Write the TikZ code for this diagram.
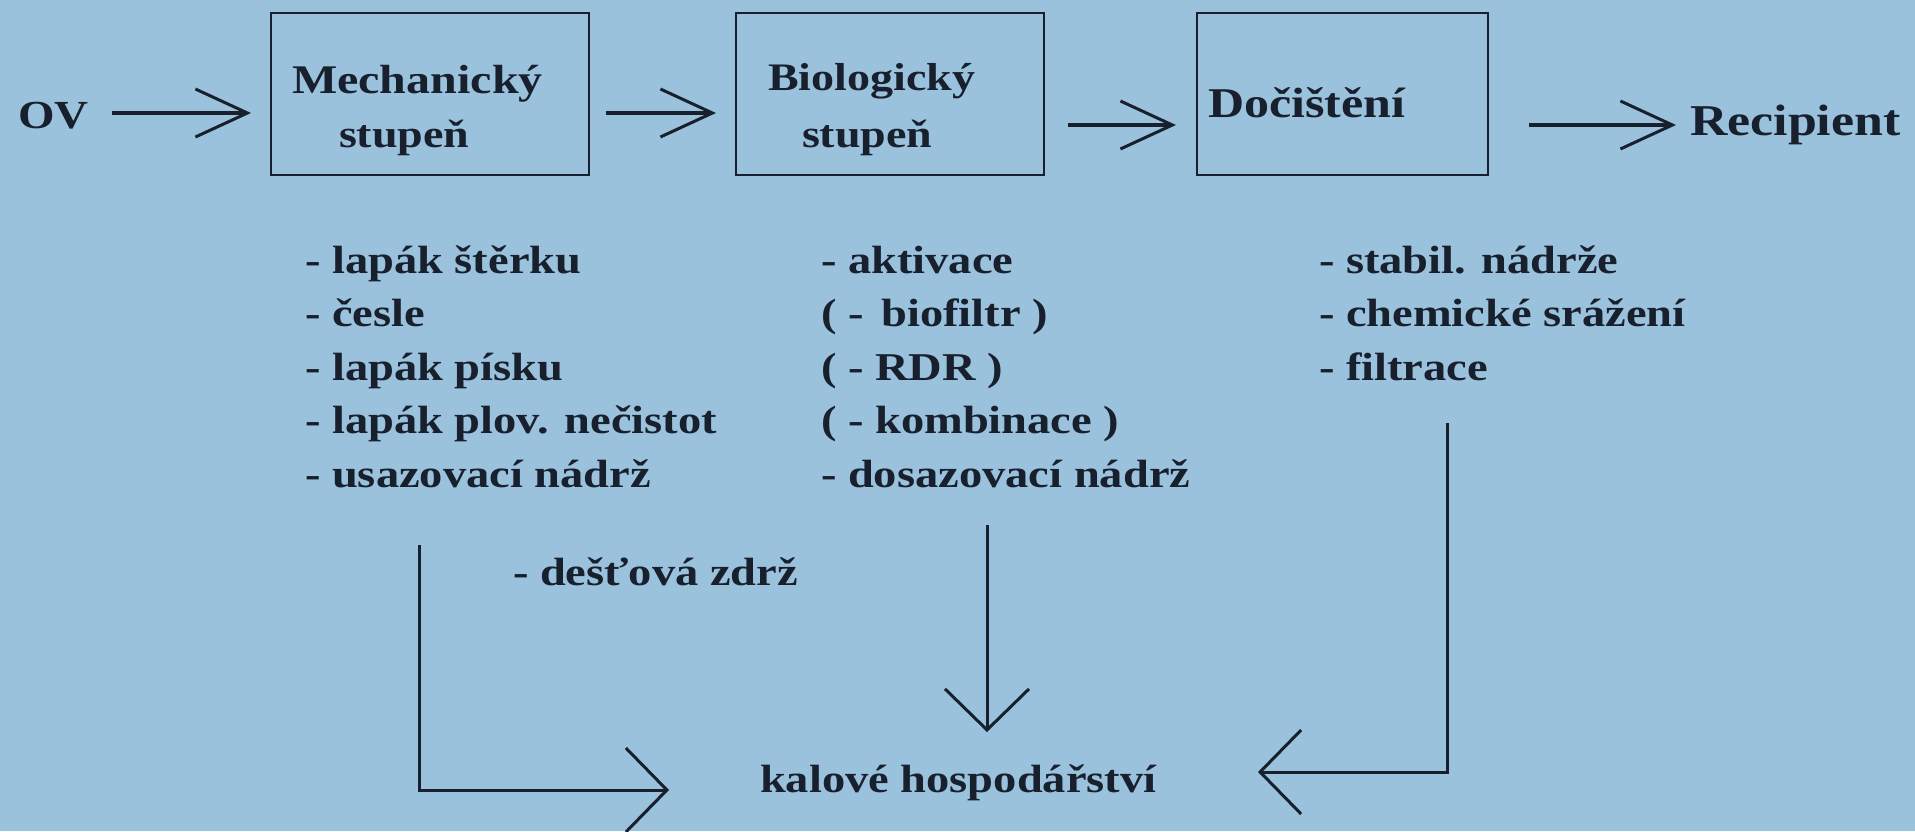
\documentclass[tikz,border=0pt]{standalone}
\usepackage{fontspec}
\setmainfont{Liberation Serif}[FakeStretch=1.18]
\usetikzlibrary{arrows.meta}
\definecolor{paper}{RGB}{155,194,220}
\definecolor{ink}{RGB}{24,32,46}
\begin{document}
\begin{tikzpicture}[x=1pt,y=-1pt,
  every node/.style={inner sep=0pt,outer sep=0pt,text=ink,font=\bfseries},
  txt/.style={anchor=base west},
  listtxt/.style={anchor=base west,font=\fontsize{39.4}{54}\selectfont\bfseries},
  stagebox/.style={draw=ink,line width=2.6pt},
  flow/.style={draw=ink,line width=4.5pt,-{Straight Barb[length=52pt,width=48pt,line width=3pt]}},
  sludge/.style={draw=ink,line width=3pt,-{Straight Barb[length=41pt,width=84pt,line width=3pt]}}]
  % page
  \fill[paper] (0,0) rectangle (1915,831);
  \useasboundingbox (0,0) rectangle (1915,831);

  % treatment stages
  \node[stagebox,minimum width=318pt,minimum height=162pt,anchor=north west] (b1) at (271,13) {};
  \node[stagebox,minimum width=308pt,minimum height=162pt,anchor=north west] (b2) at (736,13) {};
  \node[stagebox,minimum width=291pt,minimum height=162pt,anchor=north west] (b3) at (1197,13) {};

  \node[txt,font=\fontsize{39.8}{54}\selectfont\bfseries] (ov) at (18,128) {OV};
  \node[txt,font=\fontsize{40.7}{54}\selectfont\bfseries] (m1) at (292,93) {Mechanický};
  \node[txt,font=\fontsize{39}{54}\selectfont\bfseries] (m2) at (339,147) {stupeň};
  \node[txt,font=\fontsize{39}{54}\selectfont\bfseries] (g1) at (768,90) {Biologický};
  \node[txt,font=\fontsize{39}{54}\selectfont\bfseries] (g2) at (802,147) {stupeň};
  \node[txt,font=\fontsize{42.4}{54}\selectfont\bfseries] (d1) at (1208,117) {Dočištění};
  \node[txt,font=\fontsize{44}{54}\selectfont\bfseries] (rec) at (1690,135) {Recipient};

  % main flow
  \coordinate (a1s) at (112,113);  \coordinate (a1e) at (251,113);
  \coordinate (a2s) at (606,113);  \coordinate (a2e) at (716,113);
  \coordinate (a3s) at (1068,125); \coordinate (a3e) at (1176,125);
  \coordinate (a4s) at (1529,125); \coordinate (a4e) at (1676,125);
  \draw[flow] (a1s) -- (a1e);
  \draw[flow] (a2s) -- (a2e);
  \draw[flow] (a3s) -- (a3e);
  \draw[flow] (a4s) -- (a4e);

  % equipment lists
  \node[listtxt] (l11) at (305,273)   {- lapák štěrku};
  \node[listtxt] (l12) at (305,326.5) {- česle};
  \node[listtxt] (l13) at (305,380)   {- lapák písku};
  \node[listtxt] (l14) at (305,433.5) {- lapák plov. nečistot};
  \node[listtxt] (l15) at (305,487)   {- usazovací nádrž};

  \node[listtxt] (l21) at (821,273)   {- aktivace};
  \node[listtxt] (l22) at (821,326.5) {( -\hspace{0.45em}biofiltr )};
  \node[listtxt] (l23) at (821,380)   {( - RDR )};
  \node[listtxt] (l24) at (821,433.5) {( - kombinace )};
  \node[listtxt] (l25) at (821,487)   {- dosazovací nádrž};

  \node[listtxt] (l31) at (1319,273)   {- stabil. nádrže};
  \node[listtxt] (l32) at (1319,326.5) {- chemické srážení};
  \node[listtxt] (l33) at (1319,380)   {- filtrace};

  \node[listtxt] (rain) at (513,585) {- dešťová zdrž};
  \node[listtxt] (kal) at (760,792) {kalové hospodářství};

  % sludge lines
  \coordinate (s1) at (419,545); \coordinate (s1k) at (419,790); \coordinate (s1e) at (669,790);
  \coordinate (s2) at (987,525); \coordinate (s2e) at (987,732);
  \coordinate (s3) at (1447,423); \coordinate (s3k) at (1447,772); \coordinate (s3e) at (1258,772);
  \draw[sludge] (s1) -- (s1k) -- (s1e);
  \draw[sludge] (s2) -- (s2e);
  \draw[sludge] (s3) -- (s3k) -- (s3e);
\end{tikzpicture}
\end{document}
